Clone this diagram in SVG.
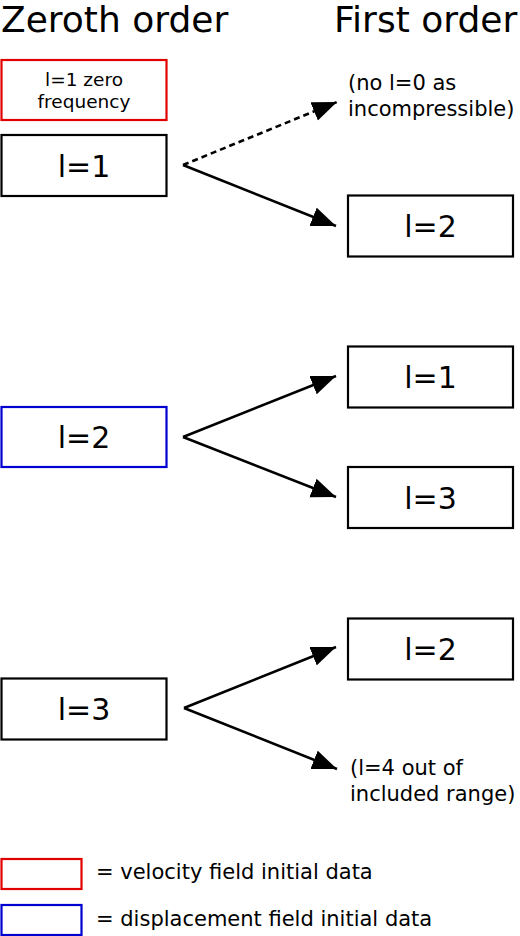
<svg xmlns="http://www.w3.org/2000/svg" width="520" height="936" viewBox="0 0 520 936">
<style>
text{font-family:"DejaVu Sans",Verdana,sans-serif;fill:#000}
.title{font-size:36px}
.lbl{font-size:30px;text-anchor:middle}
.small{font-size:18.5px;text-anchor:middle}
.note{font-size:21px}
.box{fill:#fff;stroke:#000;stroke-width:2.2}
.red{stroke:#e00000}
.blue{stroke:#0000d0}
.conn{stroke:#000;stroke-width:2.6;fill:none}
.dash{stroke-dasharray:6,4}
</style>
<defs>
<marker id="ah" viewBox="0 0 10 8" refX="10" refY="4" markerWidth="9.5" markerHeight="7.8" markerUnits="strokeWidth" orient="auto">
<path d="M0,0 L10,4 L0,8 Z" fill="#000"/>
</marker>
</defs>
<rect width="520" height="936" fill="#fff"/>
<text class="title" x="1" y="32">Zeroth order</text>
<text class="title" x="334" y="32">First order</text>
<g id="node-l1-zero"><rect class="box red" x="1.5" y="60" width="165" height="60"/><text class="small" x="84" y="85.5">l=1 zero</text><text class="small" x="84" y="107.5">frequency</text></g>
<g id="node-z-l1"><rect class="box" x="1.5" y="135" width="165" height="61"/><text class="lbl" x="84" y="176.5">l=1</text></g>
<g id="node-note-l0"><text class="note" x="348" y="90">(no l=0 as</text><text class="note" x="348" y="116">incompressible)</text></g>
<g id="node-f-l2a"><rect class="box" x="348" y="195.5" width="165" height="61"/><text class="lbl" x="430.5" y="237">l=2</text></g>
<g id="node-f-l1"><rect class="box" x="348" y="346.5" width="165" height="61"/><text class="lbl" x="430.5" y="388">l=1</text></g>
<g id="node-z-l2"><rect class="box blue" x="1.5" y="407" width="165" height="60"/><text class="lbl" x="84" y="448">l=2</text></g>
<g id="node-f-l3"><rect class="box" x="348" y="467" width="165" height="61"/><text class="lbl" x="430.5" y="508.5">l=3</text></g>
<g id="node-f-l2b"><rect class="box" x="348" y="618.5" width="165" height="61"/><text class="lbl" x="430.5" y="660">l=2</text></g>
<g id="node-z-l3"><rect class="box" x="1.5" y="678.5" width="165" height="61"/><text class="lbl" x="84" y="720">l=3</text></g>
<g id="node-note-l4"><text class="note" x="350" y="775">(l=4 out of</text><text class="note" x="350" y="801">included range)</text></g>
<g id="legend">
<rect class="box red" x="1.5" y="859" width="80" height="30"/>
<text class="note" x="96" y="879">= velocity field initial data</text>
<rect class="box blue" x="1.5" y="905" width="80" height="30"/>
<text class="note" x="96" y="926">= displacement field initial data</text>
</g>
<g id="connectors">
<line class="conn dash" x1="183" y1="165" x2="337" y2="102" marker-end="url(#ah)"/>
<line class="conn" x1="183" y1="165" x2="336" y2="226" marker-end="url(#ah)"/>
<line class="conn" x1="183" y1="437" x2="336" y2="376" marker-end="url(#ah)"/>
<line class="conn" x1="183" y1="437" x2="336" y2="497" marker-end="url(#ah)"/>
<line class="conn" x1="184" y1="708" x2="336" y2="647" marker-end="url(#ah)"/>
<line class="conn" x1="184" y1="708" x2="337" y2="769" marker-end="url(#ah)"/>
</g>
</svg>
